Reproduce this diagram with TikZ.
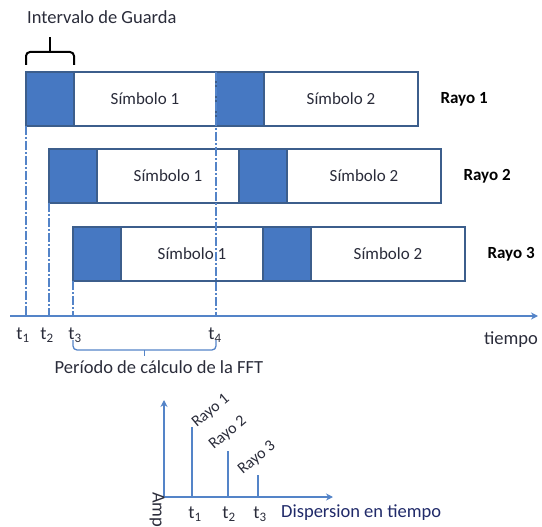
\documentclass[tikz,border=0pt]{standalone}
\usepackage{fontspec}
\setmainfont{Carlito}
\usetikzlibrary{arrows.meta, positioning, calc}
\definecolor{guardblue}{RGB}{70,120,194}
\definecolor{edgeblue}{RGB}{60,94,140}
\definecolor{axisblue}{RGB}{84,132,200}
\definecolor{textgray}{RGB}{42,44,58}
\definecolor{navytext}{RGB}{32,42,105}

\begin{document}
\begin{tikzpicture}[
    x=1pt, y=-1pt,
    font=\fontsize{18.5}{22}\selectfont,
    guard/.style={draw=edgeblue, line width=2.2pt, fill=guardblue, minimum width=48pt, minimum height=54pt, inner sep=0pt, outer sep=0pt, anchor=north west},
    symb/.style={draw=edgeblue, line width=2.2pt, fill=white, minimum height=54pt, inner sep=0pt, outer sep=0pt, text=textgray, font=\fontsize{17}{20}\selectfont},
    raylab/.style={font=\fontsize{17}{20}\selectfont\bfseries},
    tline/.style={draw=axisblue, line width=1.2pt, dash pattern=on 9pt off 2pt on 2pt off 2pt},
    tlab/.style={text=textgray, inner sep=0pt},
    axis/.style={draw=axisblue, line width=1.6pt, -{Stealth[length=7pt, width=7pt]}},
    peak/.style={draw=axisblue, line width=1.6pt},
    plab/.style={text=textgray, rotate=40, inner sep=0pt, font=\fontsize{16}{19}\selectfont}
]
    \useasboundingbox (0,0) rectangle (542,527);

    % rays with guard intervals and symbols
    \foreach \r/\dx/\yt in {1/0/72, 2/23/149, 3/47/227} {
        \node[guard] (ga\r) at (26+\dx,\yt) {};
        \node[symb, minimum width=142pt, right=0pt of ga\r] (sa\r) {Símbolo 1};
        \node[guard, right=0pt of sa\r] (gb\r) {};
        \node[symb, minimum width=154pt, right=0pt of gb\r] (sb\r) {Símbolo 2};
        \node[raylab, right=19pt of sb\r] (ry\r) {Rayo \r};
    }

    % time axis
    \coordinate (axs) at (10,316);
    \coordinate (axe) at (538,316);
    \draw[axis] (axs) -- (axe);
    \node[tlab, below left=16pt and 0pt of axe] (tiempo) {tiempo};

    % instants
    \draw[tline] (ga1.south west) -- (ga1.south west |- axs);
    \draw[tline] (ga2.south west) -- (ga2.south west |- axs);
    \draw[tline] (ga3.south west) -- (ga3.south west |- axs);
    \draw[tline, line width=2pt] (gb1.north west) -- (gb1.north west |- axs);
    \node[tlab, below=12pt of ga1.south west |- axs, xshift=-3pt] (t1) {t\textsubscript{1}};
    \node[tlab, below=12pt of ga2.south west |- axs, xshift=-2pt] (t2) {t\textsubscript{2}};
    \node[tlab, below=12pt of ga3.south west |- axs, xshift=2pt] (t3) {t\textsubscript{3}};
    \node[tlab, below=12pt of gb1.north west |- axs, xshift=-1pt] (t4) {t\textsubscript{4}};

    % guard interval bracket
    \coordinate (gl) at (26,65);
    \coordinate (gr) at (74,65);
    \coordinate (gm) at (50,37);
    \draw[line width=2pt, rounded corners=4pt] (gl) -- (gl |- 0,52) -- (gr |- 0,52) -- (gr);
    \draw[line width=2pt, rounded corners=4pt] (gm |- 0,52) -- (gm);
    \node[tlab, anchor=west] (guarda) at (27,17) {Intervalo de Guarda};

    % FFT period bracket
    \coordinate (fl) at (ga3.south west |- 0,340);
    \coordinate (fr) at (gb1.north west |- 0,340);
    \coordinate (fm) at ($(fl)!0.5!(fr)+(0,16)$);
    \draw[draw=axisblue, line width=1.3pt, rounded corners=4pt] (fl) -- (fl |- 0,350) -- (fr |- 0,350) -- (fr);
    \draw[draw=axisblue, line width=1.3pt] (fm |- 0,350) -- (fm);
    \node[tlab] (fft) at (159,367) {Período de cálculo de la FFT};

    % delay spread
    \coordinate (orig) at (164,497);
    \draw[axis] (orig) -- (164,400);
    \draw[axis] (orig) -- (333,497);
    \coordinate (r1) at (192,427);
    \coordinate (r2) at (228,451);
    \coordinate (r3) at (258,475);
    \draw[peak] (r1) -- (r1 |- orig);
    \draw[peak] (r2) -- (r2 |- orig);
    \draw[peak] (r3) -- (r3 |- orig);
    \node[plab] (p1) at ([xshift=19pt, yshift=16pt]r1) {Rayo 1};
    \node[plab] (p2) at ([xshift=0pt, yshift=18pt]r2) {Rayo 2};
    \node[plab] (p3) at ([xshift=-1pt, yshift=17pt]r3) {Rayo 3};
    \node[tlab, below=10pt of r1 |- orig, xshift=3pt] (d1) {t\textsubscript{1}};
    \node[tlab, below=10pt of r2 |- orig, xshift=1pt] (d2) {t\textsubscript{2}};
    \node[tlab, below=10pt of r3 |- orig, xshift=2pt] (d3) {t\textsubscript{3}};
    \node[tlab, text=navytext, anchor=west] (disp) at (281,513) {Dispersion en tiempo};
    \node[tlab, rotate=-90, anchor=west] (amp) at (157,492) {Amp};
\end{tikzpicture}
\end{document}
